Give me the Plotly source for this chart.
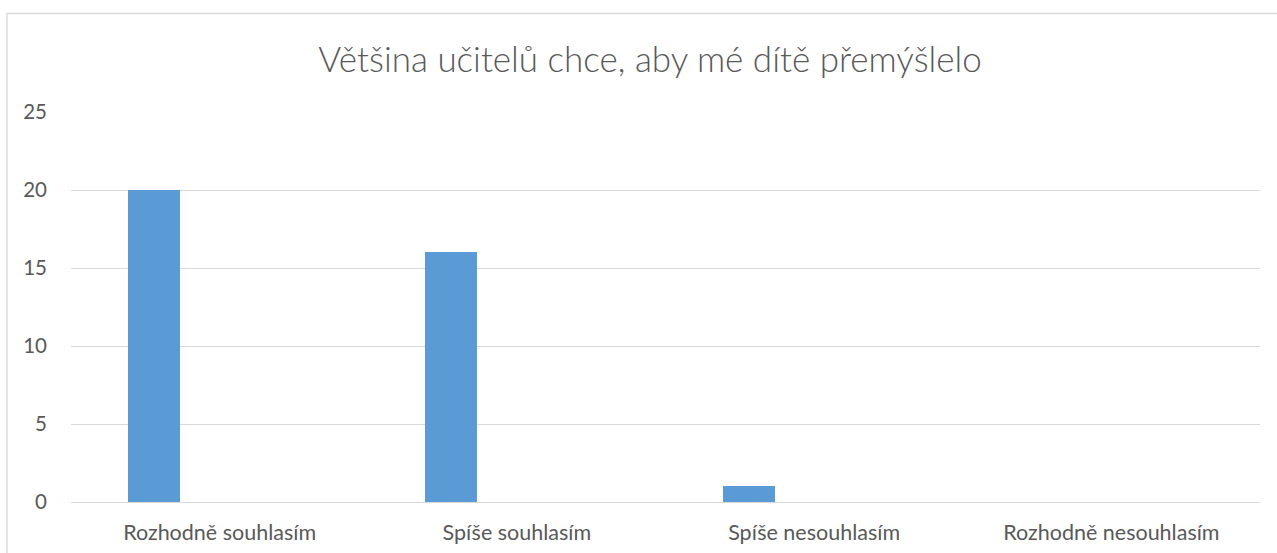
import plotly.graph_objects as go

categories = ["Rozhodně souhlasím", "Spíše souhlasím", "Spíše nesouhlasím", "Rozhodně nesouhlasím"]
values = [20, 16, 1, 0]
y_ticks = [0, 5, 10, 15, 20, 25]

W, H = 1277, 553
L, R, T, B = 71, 17, 112, 51
pw = W - L - R
ph = H - T - B

fig = go.Figure(
    go.Bar(
        x=categories,
        y=values,
        marker=dict(color="#5B9BD5", line=dict(width=0)),
        width=0.175,
        offset=-0.308,
        hoverinfo="x+y",
    )
)

# Outer chart frame (partly running off the right and bottom edges)
fig.add_shape(
    type="rect", xref="paper", yref="paper",
    x0=(7 - L) / pw, x1=(W + 20 - L) / pw,
    y0=(ph + T - (H + 20)) / ph, y1=(ph + T - 13.5) / ph,
    line=dict(color="#D9D9D9", width=1.3), fillcolor="rgba(0,0,0,0)",
    layer="below",
)

fig.update_layout(
    width=W, height=H,
    margin=dict(l=L, r=R, t=T, b=B, autoexpand=False),
    paper_bgcolor="white", plot_bgcolor="white",
    font=dict(family="Lato, sans-serif", color="#595959"),
    title=dict(
        text="Většina učitelů chce, aby mé dítě přemýšlelo",
        x=(650) / W, xanchor="center", y=1 - 60 / H, yanchor="middle",
        font=dict(size=35, color="#595959", weight=300),
    ),
    showlegend=False,
    bargap=0,
)
fig.update_xaxes(
    type="category", showgrid=False, showline=False, ticks="",
    tickfont=dict(size=21.5, color="#595959"),
    ticklabelstandoff=15, automargin=False,
)
fig.update_yaxes(
    range=[0, 25], tickvals=y_ticks, showgrid=True, gridcolor="#D9D9D9", gridwidth=1.3,
    zeroline=True, zerolinecolor="#D9D9D9", zerolinewidth=1.3,
    showline=False, ticks="",
    tickfont=dict(size=20.5, color="#595959"),
    ticklabelstandoff=23, automargin=False,
)

fig.write_html("out.html")
